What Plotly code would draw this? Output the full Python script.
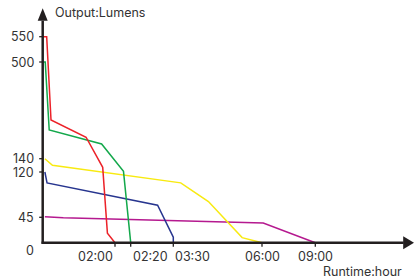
import numpy as np
import plotly.graph_objects as go

# ---- data (hours, lumens) ----
red_x = [0, 0.11, 0.23, 1.2, 1.66, 1.79, 2.0]
red_y = [550, 550, 284, 220, 127, 17, 0]
green_x = [0, 0.07, 0.18, 1.63, 2.18, 2.333]
green_y = [500, 500, 247, 195, 121, 0]
yellow_x = [0.06, 0.27, 3.71, 4.49, 5.44, 6.0]
yellow_y = [140, 130, 102, 71, 9, 0]
blue_x = [0.06, 0.12, 3.07, 3.5, 3.5]
blue_y = [120, 102, 65, 10, 0]
purple_x = [0.06, 0.57, 6.07, 9.0]
purple_y = [46, 44, 35, 0]

x_tick_vals = [0, 2, 2.333, 3.5, 6, 9]
x_tick_text = ["", "02:00", "02:20", "03:30", "06:00", "09:00"]
y_tick_vals = [0, 45, 120, 140, 500, 550]
y_tick_text = ["0", "45", "120", "140", "500", "550"]

# ---- piecewise axis scale (style) ----
X_POS = [0, 72.3, 88, 130.6, 219.3, 272.6]
Y_POS = [0, 25.4, 70.7, 84, 180.7, 206]


def tx(v):
    return np.interp(v, x_tick_vals, X_POS)


def ty(v):
    return np.interp(v, y_tick_vals, Y_POS)


W, H = 414, 279
OX, OY = 42.7, 242.7  # origin in pixels
AX = "#231f20"
FONT = "Inter"

fig = go.Figure()
series = [
    (purple_x, purple_y, "#b5198f"),
    (blue_x, blue_y, "#27358f"),
    (yellow_x, yellow_y, "#f8ea10"),
    (green_x, green_y, "#13a84b"),
    (red_x, red_y, "#ec2229"),
]
for xs, ys, c in series:
    fig.add_trace(go.Scatter(x=tx(xs), y=ty(ys), mode="lines",
                             line=dict(color=c, width=1.5), hoverinfo="skip",
                             showlegend=False))

shapes = []
# axes lines
shapes.append(dict(type="line", x0=0, y0=-1, x1=0, y1=222, line=dict(color=AX, width=2.5)))
shapes.append(dict(type="line", x0=-1.2, y0=0, x1=361, y1=0, line=dict(color=AX, width=2.5)))
# arrow heads
shapes.append(dict(type="path", path="M -5 222 L 5 222 L 0 234.5 Z",
                   fillcolor=AX, line=dict(width=0)))
shapes.append(dict(type="path", path="M 360.5 6.5 L 360.5 -6.5 L 371.3 0 Z",
                   fillcolor=AX, line=dict(width=0)))
# ticks
for v in y_tick_vals[1:]:
    p = float(ty(v))
    shapes.append(dict(type="line", x0=-3.5, x1=0, y0=p, y1=p, line=dict(color=AX, width=1.3)))
for v in x_tick_vals[1:]:
    p = float(tx(v))
    shapes.append(dict(type="line", x0=p, x1=p, y0=0, y1=-4, line=dict(color=AX, width=1.3)))

annotations = []
tf = dict(family=FONT, size=12.5, color="#333333")
for v, t in zip(y_tick_vals[1:], y_tick_text[1:]):
    annotations.append(dict(x=0, y=float(ty(v)), text=t, showarrow=False,
                            xanchor="right", yanchor="middle", xshift=-6.5, font=tf))
annotations.append(dict(x=0, y=0, text="0", showarrow=False, xanchor="right",
                        yanchor="middle", xshift=-6.5, yshift=-8, font=tf))
anchors = {"02:00": "right", "02:20": "left", "03:30": "left", "06:00": "center", "09:00": "center"}
for v, t in zip(x_tick_vals[1:], x_tick_text[1:]):
    annotations.append(dict(x=float(tx(v)), y=0, text=t, showarrow=False,
                            xanchor=anchors[t], yanchor="middle", yshift=-14, font=tf))
annotations.append(dict(x=10, y=230, text="Output:Lumens", showarrow=False,
                        xanchor="left", yanchor="middle", font=tf))
annotations.append(dict(x=361.6, y=-29, text="Runtime:hour", showarrow=False,
                        xanchor="right", yanchor="middle", font=tf))

fig.update_layout(
    width=W, height=H,
    margin=dict(l=0, r=0, t=0, b=0, pad=0),
    paper_bgcolor="white", plot_bgcolor="white",
    xaxis=dict(range=[-OX, W - OX], visible=False, fixedrange=True),
    yaxis=dict(range=[OY - H, OY], visible=False, fixedrange=True),
    shapes=shapes, annotations=annotations,
)
fig.write_html(
    "out.html",
    config={"displayModeBar": False},
    post_script="document.body.style.margin='0';document.body.style.overflow='hidden';",
)
